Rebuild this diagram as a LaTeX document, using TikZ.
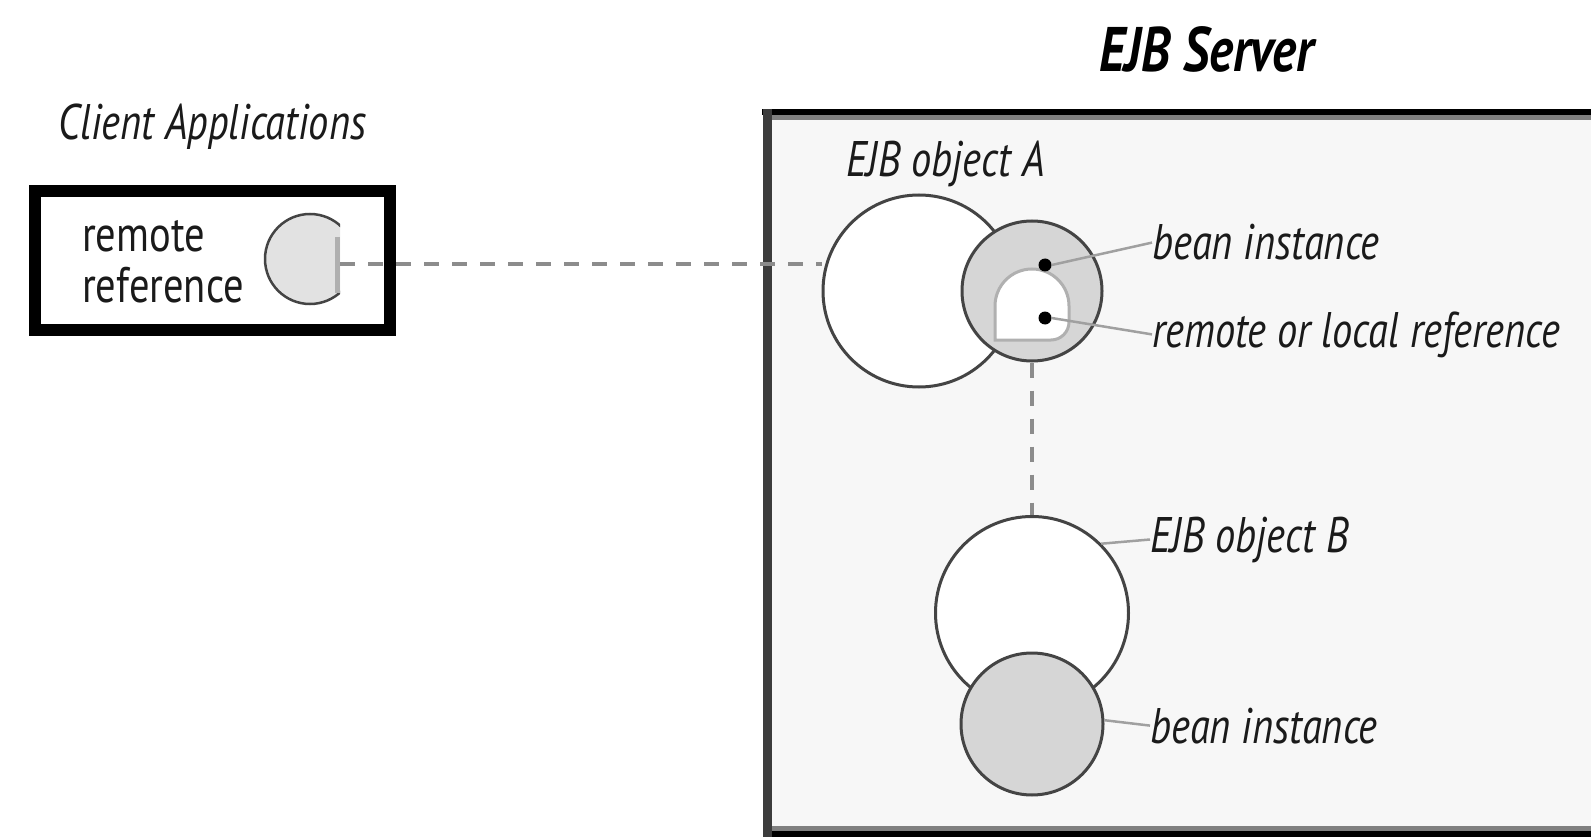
\documentclass[tikz,border=0pt]{standalone}
\usepackage{fontspec}
\setmainfont{PT Sans}[FakeStretch=0.81]
\definecolor{boxfill}{HTML}{F7F7F7}
\definecolor{bandgray}{HTML}{808080}
\definecolor{leftdark}{HTML}{3C3C3C}
\definecolor{outl}{HTML}{444444}
\definecolor{beanfill}{HTML}{D6D6D6}
\definecolor{stubfill}{HTML}{E2E2E2}
\definecolor{lightoutl}{HTML}{B0B0B0}
\definecolor{leadgray}{HTML}{A0A0A0}
\definecolor{dashgray}{HTML}{8C8C8C}
\definecolor{txt}{HTML}{1A1A1A}
\begin{document}
\begin{tikzpicture}[x=1pt,y=-1pt,
  lbl/.style={anchor=base west, inner sep=0pt, text=txt, font=\fontsize{50}{48}\selectfont\itshape},
  plain/.style={anchor=base west, inner sep=0pt, text=txt, font=\fontsize{50}{48}\selectfont},
  ttl/.style={anchor=base west, inner sep=0pt, text=black, font=\fontsize{63}{63}\selectfont\bfseries\itshape},
  whiteball/.style={circle, inner sep=0pt, fill=white, draw=outl, line width=3pt},
  beanball/.style={circle, inner sep=0pt, fill=beanfill, draw=outl, line width=3pt},
  blackdot/.style={circle, inner sep=0pt, fill=black, minimum size=13pt},
  lead/.style={draw=leadgray, line width=2.5pt},
  conn/.style={draw=dashgray, line width=4pt, dash pattern=on 15pt off 13pt}]
\useasboundingbox (0,0) rectangle (1591,837);
\fill[white] (0,0) rectangle (1591,837);
% server box
\fill[boxfill] (767,112) rectangle (1600,834);
\draw[line width=6pt, black] (762,112) -- (1600,112);
\draw[line width=5pt, bandgray] (770,117.5) -- (1600,117.5);
\draw[line width=5pt, bandgray] (770,828.5) -- (1600,828.5);
\draw[line width=6pt, black] (767,834) -- (1600,834);
\draw[line width=9pt, leftdark] (767,109) -- (767,837);
\node[ttl] (srv) at (1099,72) {EJB Server};
% client box
\node[draw=black, line width=12pt, minimum width=355pt, minimum height=139pt, inner sep=0pt] (client) at (212.5,260.5) {};
\node[lbl] (clientlbl) at (58,140) {Client Applications};
\node[plain] (rem1) at (82,252) {remote};
\node[plain] (rem2) at (82,302) {reference};
\begin{scope}
  \clip (250,200) rectangle (340,320);
  \node[circle, inner sep=0pt, minimum size=90pt, fill=stubfill, draw=outl, line width=2.5pt] (stub) at (310,259) {};
\end{scope}
\draw[line width=5pt, draw=lightoutl] (337,237) -- (337,293);
\coordinate (stubR) at (340,264);
% EJB object A
\node[whiteball, minimum size=192pt] (objA) at (919,291) {};
\node[beanball, minimum size=140pt] (beanA) at (1032,291) {};
\draw[fill=white, draw=lightoutl, line width=3pt] (995,340) -- (995,306) arc[start angle=180, end angle=0, radius=37pt] -- (1069,322) arc[start angle=0, end angle=-90, radius=18pt] -- cycle;
\node[blackdot] (dot1) at (1045,265) {};
\node[blackdot] (dot2) at (1045,318) {};
\node[lbl] (objAlbl) at (846,177) {EJB object A};
\node[lbl] (beanAlbl) at (1152,260) {bean instance};
\node[lbl] (reflbl) at (1152,347) {remote or local reference};
\draw[lead] (dot1.east) -- (beanAlbl.west);
\draw[lead] (dot2.east) -- (reflbl.west);
% EJB object B
\node[whiteball, minimum size=193pt] (objB) at (1032,613) {};
\node[beanball, minimum size=142pt] (beanB) at (1032,724) {};
\node[lbl] (objBlbl) at (1150,552) {EJB object B};
\node[lbl] (beanBlbl) at (1150,743) {bean instance};
\draw[lead] (objB.45) -- (objBlbl.west);
\draw[lead] (beanB.3) -- (beanBlbl.west);
% connectors
\draw[conn] (stubR) -- (stubR -| objA.west);
\draw[conn] (beanA.south) -- (objB.north);
\end{tikzpicture}
\end{document}
